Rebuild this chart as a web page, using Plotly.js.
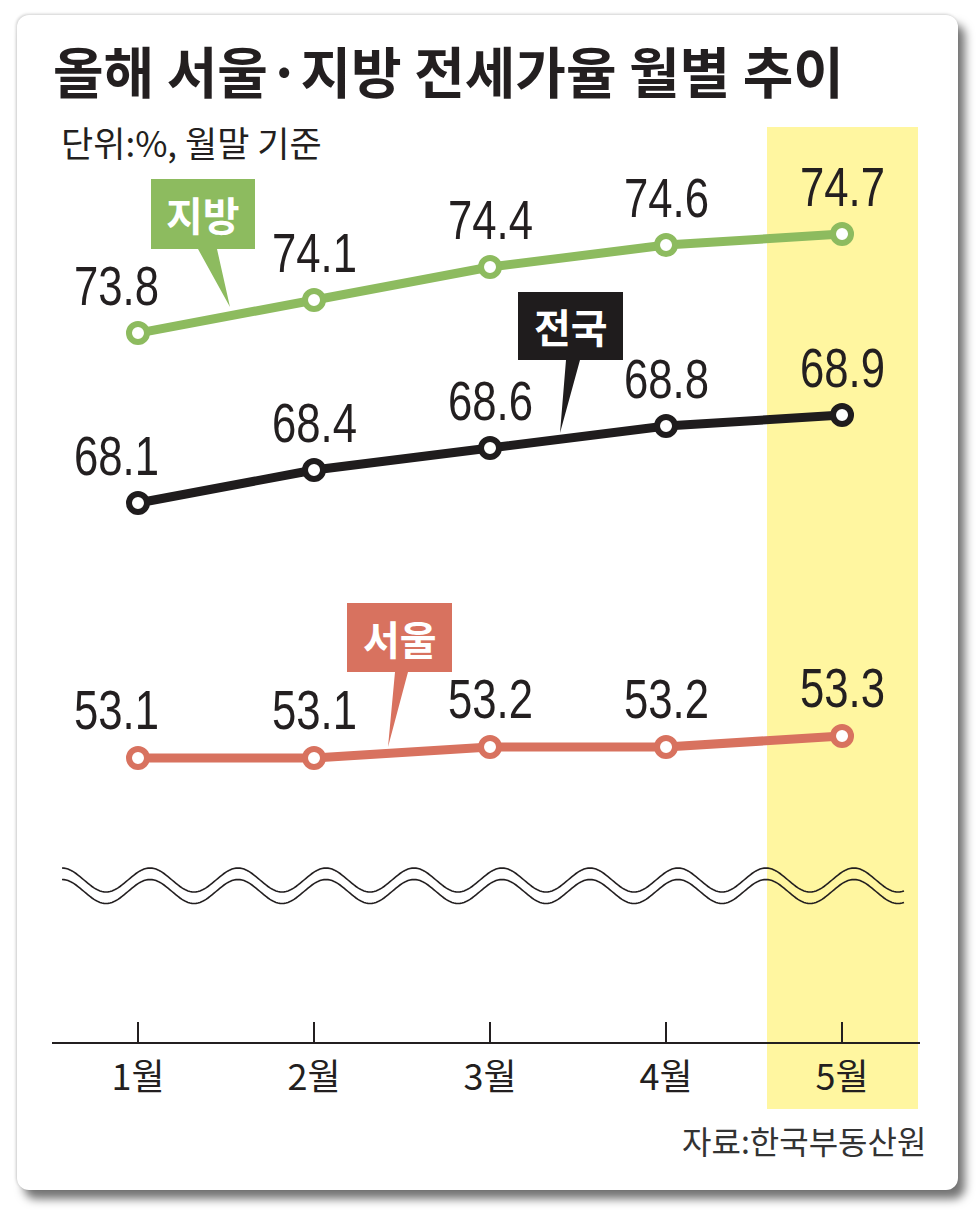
<!DOCTYPE html>
<html><head><meta charset="utf-8">
<script src="https://cdn.plot.ly/plotly-3.0.1.min.js"></script>
<style>
html,body{margin:0;padding:0;background:#fff;overflow:hidden;}
#card{position:absolute;left:17px;top:15px;width:941px;height:1175px;background:#fff;border-radius:12px;
  box-shadow:7px 9px 10px rgba(0,0,0,0.55), -1px -1px 3px rgba(0,0,0,0.18);}
#chart{position:absolute;left:0;top:0;width:976px;height:1223px;}
</style></head><body>
<div id="card"></div><div id="chart"></div>
<script>
// ---- data ----
const months = ['1월','2월','3월','4월','5월'];
const monthIdx = [1,2,3,4,5];
const jibang = [73.8,74.1,74.4,74.6,74.7];   // 지방
const jeonguk = [68.1,68.4,68.6,68.8,68.9];  // 전국
const seoul = [53.1,53.1,53.2,53.2,53.3];    // 서울

// ---- geometry helpers (layout only) ----
const W=976,H=1223,L=52,R=920,T=120,B=1042;
const px = x => (x-L)/(R-L);
const py = y => (B-y)/(B-T);

const GREEN='#8dbb5f', BLACK='#1f1c1d', SALMON='#d8725f', TXT='#231f20';
const NUMFONT='Liberation Sans, Arial, sans-serif';
const KFONT='Noto Sans CJK KR, sans-serif';

function series(y, color, axis){
  return {x: monthIdx, y: y, yaxis: axis, type:'scatter', mode:'lines+markers',
    line:{color:color, width:9}, cliponaxis:false,
    marker:{size:18, color:'#ffffff', line:{color:color, width:6}},
    hoverinfo:'skip', showlegend:false};
}
const traces=[series(jibang,GREEN,'y'), series(jeonguk,BLACK,'y2'), series(seoul,SALMON,'y3')];

const annotations=[];
function valueLabels(y, yref){
  y.forEach((v,i)=>{
    annotations.push({x: monthIdx[i], y: v, xref:'x', yref: yref, text: v.toFixed(1),
      showarrow:false, xshift: i===0 ? -22 : 0, yshift: 48, yanchor:'middle',
      font:{family:NUMFONT, size:56, color:TXT}});
  });
}
valueLabels(jibang,'y'); valueLabels(jeonguk,'y2'); valueLabels(seoul,'y3');

// callout labels
function callout(text, color, x0,y0,x1,y1, bl,br,tx,ty){
  annotations.push({x: px((x0+x1)/2), y: py((y0+y1)/2), xref:'paper', yref:'paper', text:'<b>'+text+'</b>',
    showarrow:false, font:{family:KFONT, size:40, color:'#ffffff'}, xanchor:'center', yanchor:'middle'});
  return {type:'path', xref:'paper', yref:'paper', fillcolor:color, line:{width:0}, layer:'above',
    path:`M${px(x0)},${py(y0)} L${px(x1)},${py(y0)} L${px(x1)},${py(y1)} L${px(br)},${py(y1)} L${px(tx)},${py(ty)} L${px(bl)},${py(y1)} L${px(x0)},${py(y1)} Z`};
}
const shapes=[];
// yellow highlight band
shapes.push({type:'rect', xref:'paper', yref:'paper', x0:px(767), x1:px(918), y0:py(1109), y1:py(127),
  fillcolor:'#fff6a0', line:{width:0}, layer:'below'});
shapes.push(callout('지방', GREEN, 151,179,255,249, 198,217,230,307));
shapes.push(callout('전국', BLACK, 518,292,623,360, 566,580,560,433));
shapes.push(callout('서울', SALMON, 347,603,452,672, 395,408,388,747));

// wavy break symbol
function wave(offset){
  let d='';
  for(let x=62;x<=905;x+=2){
    const y = 880 + offset - 12*Math.cos(2*Math.PI*(x-62)/88);
    d += (x===62?'M':'L') + px(x).toFixed(5)+','+py(y).toFixed(5)+' ';
  }
  return {type:'path', xref:'paper', yref:'paper', path:d, line:{color:TXT, width:1.6}, layer:'above'};
}
shapes.push(wave(0)); shapes.push(wave(11.5));

// subtitle & source
annotations.push({x: px(59), y: py(141), xref:'paper', yref:'paper', xanchor:'left', yanchor:'middle',
  text:'단위:%, 월말 기준', showarrow:false, font:{family:KFONT, size:35, color:TXT}});
annotations.push({x: px(928), y: py(1140), xref:'paper', yref:'paper', xanchor:'right', yanchor:'middle',
  text:'자료:한국부동산원', showarrow:false, font:{family:KFONT, size:32, color:'#333333'}});

const yBase={visible:false, fixedrange:true, domain:[0,1]};
const layout={
  width:W, height:H, margin:{l:L, r:W-R, t:T, b:H-B, pad:0},
  paper_bgcolor:'rgba(0,0,0,0)', plot_bgcolor:'rgba(0,0,0,0)',
  title:{text:'<b>올해 서울·지방 전세가율 월별 추이</b>', x:53/W, xanchor:'left', xref:'container',
    y:1-74/H, yanchor:'middle', yref:'container', font:{family:KFONT, size:55, color:TXT}},
  xaxis:{range:[0.5114,5.443], tickvals:monthIdx, ticktext:months, showgrid:false, zeroline:false,
    showline:true, linecolor:TXT, linewidth:2, ticks:'inside', ticklen:20, tickwidth:1.5, tickcolor:TXT,
    ticklabelstandoff:3, tickfont:{family:KFONT, size:36, color:TXT}, fixedrange:true},
  yaxis:Object.assign({range:[67.355,75.737]}, yBase),
  yaxis2:Object.assign({range:[63.2,71.582], overlaying:'y'}, yBase),
  yaxis3:Object.assign({range:[50.518,58.9], overlaying:'y'}, yBase),
  shapes:shapes, annotations:annotations, showlegend:false
};
Plotly.newPlot('chart', traces, layout, {displayModeBar:false, staticPlot:true}).then(gd=>{
  // condense the numeric value labels horizontally, like the original condensed typeface
  gd.querySelectorAll('text.annotation-text').forEach(t=>{
    if(/^\d+\.\d$/.test(t.textContent.trim())){
      t.style.transformBox='fill-box'; t.style.transformOrigin='center';
      t.style.transform='scaleX(0.78)';
    }
  });
});
</script>
</body></html>
